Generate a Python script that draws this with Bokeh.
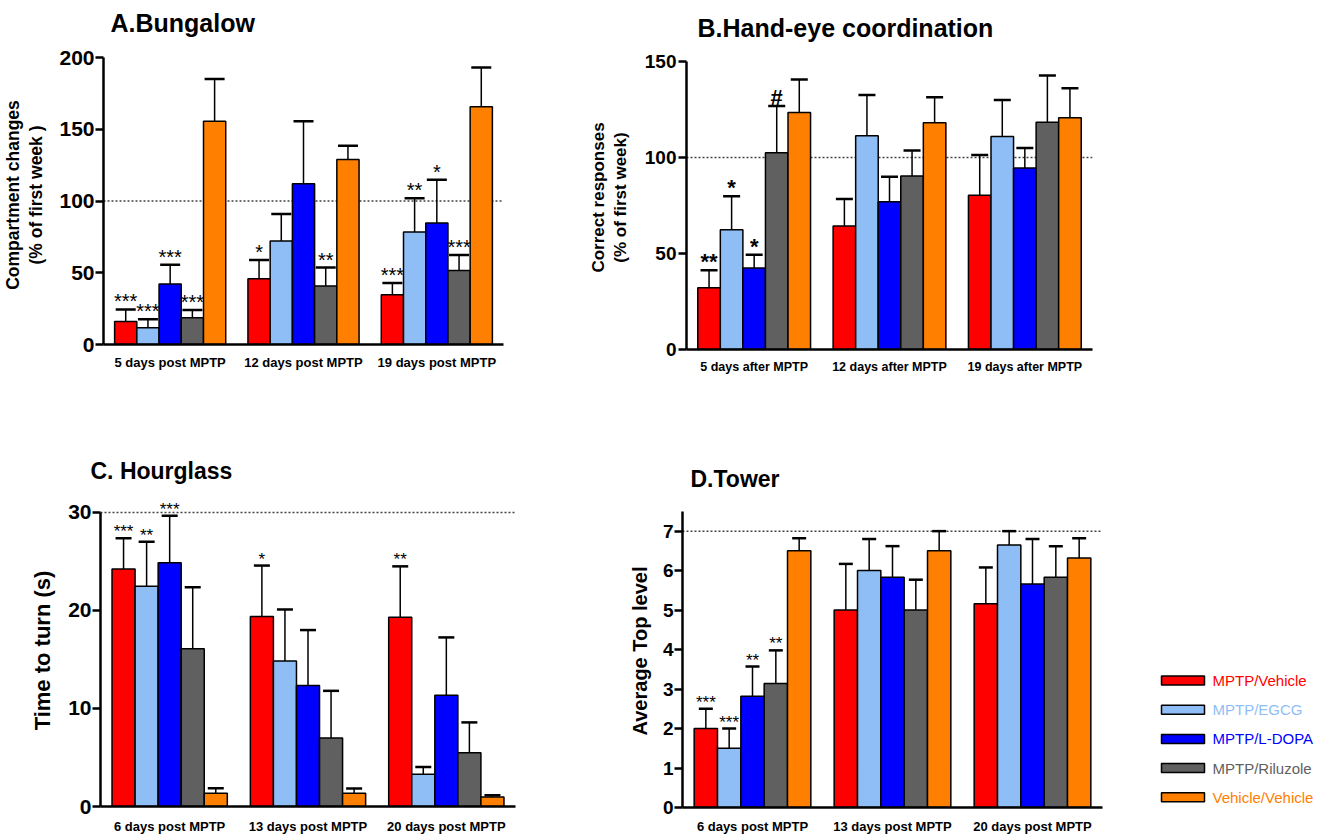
from bokeh.plotting import figure
from bokeh.models import (Range1d, FixedTicker, Span, Whisker, TeeHead, ColumnDataSource,
                          LabelSet)
from bokeh.layouts import row, column
from bokeh.embed import file_html
from bokeh.resources import INLINE
from bokeh.core.properties import value

FONT = "Liberation Sans"

series = ["MPTP/Vehicle", "MPTP/EGCG", "MPTP/L-DOPA", "MPTP/Riluzole", "Vehicle/Vehicle"]
colors = ["#FF0000", "#8FBEF6", "#0000FF", "#606060", "#FF8000"]

# A. Bungalow
groups_A = ["5 days post MPTP", "12 days post MPTP", "19 days post MPTP"]
mean_A = [[16.0, 11.6, 42.2, 18.6, 155.5],
          [45.9, 72.2, 112.0, 40.8, 129.0],
          [34.6, 78.4, 84.7, 51.5, 165.7]]
sem_A = [[8.4, 6.0, 13.3, 5.5, 29.5],
         [13.0, 18.8, 43.5, 12.8, 9.5],
         [8.3, 23.5, 30.1, 10.9, 27.3]]
sig_A = [["***", "***", "***", "***", ""],
         ["*", "", "", "**", ""],
         ["***", "**", "*", "***", ""]]
yticks_A = [0, 50, 100, 150, 200]

# B. Hand-eye coordination
groups_B = ["5 days after MPTP", "12 days after MPTP", "19 days after MPTP"]
mean_B = [[32.1, 62.4, 42.5, 102.5, 123.5],
          [64.3, 111.3, 77.0, 90.3, 118.1],
          [80.3, 111.0, 94.5, 118.4, 120.7]]
sem_B = [[9.2, 17.4, 6.9, 24.3, 17.1],
         [14.1, 21.2, 13.0, 13.4, 13.3],
         [21.0, 19.0, 10.4, 24.3, 15.4]]
sig_B = [["**", "*", "*", "#", ""],
         ["", "", "", "", ""],
         ["", "", "", "", ""]]
yticks_B = [0, 50, 100, 150]

# C. Hourglass
groups_C = ["6 days post MPTP", "13 days post MPTP", "20 days post MPTP"]
mean_C = [[24.24, 22.47, 24.88, 16.1, 1.36],
          [19.39, 14.85, 12.34, 6.98, 1.36],
          [19.3, 3.29, 11.36, 5.49, 0.98]]
sem_C = [[3.12, 4.53, 4.78, 6.27, 0.5],
         [5.19, 5.25, 5.66, 4.82, 0.47],
         [5.2, 0.74, 5.89, 3.09, 0.17]]
sig_C = [["***", "**", "***", "", ""],
         ["*", "", "", "", ""],
         ["**", "", "", "", ""]]
yticks_C = [0, 10, 20, 30]

# D. Tower
groups_D = ["6 days post MPTP", "13 days post MPTP", "20 days post MPTP"]
mean_D = [[2.0, 1.5, 2.82, 3.14, 6.5],
          [5.0, 6.0, 5.83, 5.0, 6.5],
          [5.16, 6.65, 5.66, 5.83, 6.32]]
sem_D = [[0.5, 0.5, 0.75, 0.84, 0.32],
         [1.17, 0.8, 0.79, 0.77, 0.5],
         [0.92, 0.35, 1.14, 0.79, 0.5]]
sig_D = [["***", "***", "**", "**", ""],
         ["", "", "", "", ""],
         ["", "", "", "", ""]]
yticks_D = [0, 1, 2, 3, 4, 5, 6, 7]


def blank_fig(w, h):
    f = figure(width=w, height=h, x_range=Range1d(0, w), y_range=Range1d(h, 0),
               output_backend="svg", toolbar_location=None, x_axis_location=None,
               y_axis_location=None, min_border=0, frame_align=False, title=None)
    f.outline_line_color = None
    f.xgrid.visible = False
    f.ygrid.visible = False
    return f


def title_fig(title, st):
    f = blank_fig(st["w"], st["th"])
    f.text(x=[st["bl"] + st["toff"]], y=[st["ty"]], text=[title], text_color="black",
           text_baseline="middle", text_align="left", text_font=value(FONT),
           text_font_size=st["tfs"], text_font_style="bold")
    return f


def make_panel(title, ylabel, groups, means, sems, sigs, yticks, yend, ref, st):
    ns = len(series)
    slot = ns + 1
    xs, ms, tops, cols, sg = [], [], [], [], []
    for g in range(len(groups)):
        for i in range(ns):
            xs.append(slot * g + i + 1)
            ms.append(means[g][i])
            tops.append(means[g][i] + sems[g][i])
            cols.append(colors[i])
            sg.append(sigs[g][i])
    src = ColumnDataSource(dict(x=xs, mean=ms, top=tops, color=cols, sig=sg))
    h = st["h"] - st["th"]
    bt = st["bt"] - st["th"]
    hf = h - bt - st["bb"]
    ytop = yend * (hf + bt) / hf   # frame reaches the figure top; axis line stops at yend
    p = figure(width=st["w"], height=h, x_range=Range1d(0, slot * len(groups)),
               y_range=Range1d(0, ytop), output_backend="svg", toolbar_location=None,
               min_border_left=st["bl"], min_border_right=st["br"],
               min_border_top=0, min_border_bottom=st["bb"], frame_align=False,
               title=None)
    p.outline_line_color = None
    p.xgrid.visible = False
    p.ygrid.visible = False
    p.background_fill_color = "white"
    p.border_fill_color = "white"

    ref_line = Span(location=ref, dimension="width", line_color="#444444",
                    line_dash="2 2", line_width=1.5, level="underlay")
    p.add_layout(ref_line)

    p.vbar(x="x", top="mean", width=1, fill_color="color", line_color="black",
           line_width=1.5, source=src)
    wh = Whisker(source=src, base="x", lower="mean", upper="top", dimension="height",
                 line_color="black", line_width=1.5,
                 upper_head=TeeHead(size=st["cap"], line_width=2.5, line_color="black"),
                 lower_head=None)
    p.add_layout(wh)
    ls = LabelSet(source=src, x="x", y="top", text="sig", text_align="center",
                  text_baseline="alphabetic", text_font=value(FONT),
                  text_font_size=st["sfs"], text_font_style=st["sfw"],
                  y_offset=st["soff"], text_color="black")
    p.add_layout(ls)

    xa = p.xaxis[0]
    xa.ticker = FixedTicker(ticks=[slot * g + slot / 2 for g in range(len(groups))])
    xa.major_label_overrides = {slot * g + slot / 2: groups[g] for g in range(len(groups))}
    xa.major_tick_line_color = None
    xa.minor_tick_line_color = None
    xa.axis_line_width = 2.5
    xa.axis_line_color = "black"
    xa.major_label_text_font = FONT
    xa.major_label_text_font_style = "bold"
    xa.major_label_text_font_size = st["xfs"]
    xa.major_label_text_color = "black"
    xa.major_label_standoff = st["xst"]

    ya = p.yaxis[0]
    ya.bounds = (0, yend)
    ya.ticker = FixedTicker(ticks=yticks)
    ya.minor_tick_line_color = None
    ya.axis_line_width = 2.5
    ya.axis_line_color = "black"
    ya.major_tick_line_width = 2.5
    ya.major_tick_out = 8
    ya.major_tick_in = 0
    ya.major_label_text_font = FONT
    ya.major_label_text_font_style = "bold"
    ya.major_label_text_font_size = st["yfs"]
    ya.major_label_text_color = "black"
    ya.major_label_standoff = st["yst"]
    ya.axis_label = ylabel
    ya.axis_label_text_font = FONT
    ya.axis_label_text_font_style = "bold"
    ya.axis_label_text_font_size = st["lfs"]
    ya.axis_label_text_line_height = 1.15
    ya.axis_label_text_color = "black"
    ya.axis_label_standoff = st["lst"]
    return column(title_fig(title, st), p, spacing=0)


pA = make_panel("A.Bungalow", "Compartment changes\n(% of first week )", groups_A, mean_A, sem_A,
                sig_A, yticks_A, 200, 100,
                dict(w=580, h=440, th=45, bl=100, br=77, bt=57, bb=96, tfs="25px", toff=10, ty=22,
                     cap=20, sfs="20px", sfw="normal", soff=1, xfs="13px", xst=4,
                     yfs="21px", yst=1, lfs="17.5px", lst=10))
pB = make_panel("B.Hand-eye coordination", "Correct responses\n(% of first week)", groups_B, mean_B,
                sem_B, sig_B, yticks_B, 150, 100,
                dict(w=740, h=440, th=45, bl=106, br=228, bt=61, bb=91, tfs="25px", toff=11,
                     ty=27.5, cap=17, sfs="22px", sfw="bold", soff=1, xfs="12.5px", xst=4,
                     yfs="19px", yst=2, lfs="17px", lst=12))
pC = make_panel("C. Hourglass", "Time to turn (s)", groups_C, mean_C, sem_C, sig_C, yticks_C, 30, 30,
                dict(w=590, h=396, th=54, bl=100, br=75, bt=72, bb=29, tfs="23px", toff=-10, ty=30,
                     cap=16, sfs="17px", sfw="normal", soff=1, xfs="13px", xst=6,
                     yfs="21px", yst=1, lfs="22px", lst=10))
pD = make_panel("D.Tower", "Average Top level", groups_D, mean_D, sem_D, sig_D, yticks_D, 7.5, 7,
                dict(w=560, h=396, th=54, bl=92, br=48, bt=71, bb=27, tfs="23px", toff=8, ty=38.7,
                     cap=14, sfs="17px", sfw="normal", soff=1, xfs="13px", xst=5,
                     yfs="19px", yst=1, lfs="20px", lst=9))

# legend panel
leg_w, leg_h = 180, 396
pL = blank_fig(leg_w, leg_h)
ly = [240 + 29.2 * i for i in range(len(series))]
lsrc = ColumnDataSource(dict(y=ly, name=series, color=colors))
pL.rect(x=32.5, y="y", width=43, height=9, fill_color="color", line_color="black",
        line_width=1.5, source=lsrc)
pL.text(x=62, y="y", text="name", text_color="color", text_baseline="middle",
        text_font=value(FONT), text_font_size="15px", source=lsrc)

layout = column(row(pA, pB, spacing=0), row(pC, pD, pL, spacing=0), spacing=0)
open("out.html", "w").write(file_html(layout, INLINE))
